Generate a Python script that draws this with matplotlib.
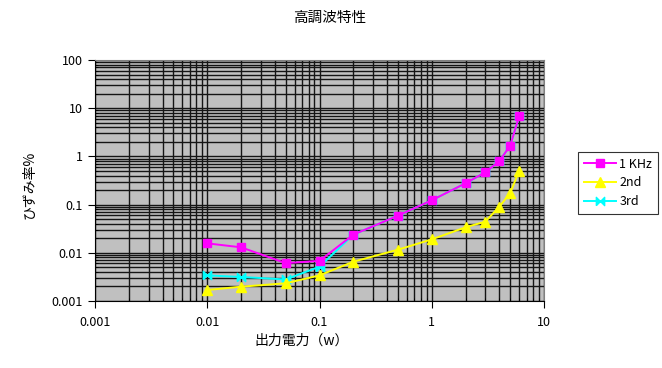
import matplotlib
matplotlib.use("Agg")
import matplotlib.pyplot as plt
from matplotlib.ticker import LogLocator, FixedLocator, FixedFormatter, NullFormatter

plt.rcParams['font.family'] = ['Noto Sans CJK JP', 'DejaVu Sans']

title = "高調波特性"
xlabel = "出力電力（w）"
ylabel = "ひずみ率%"

power = [0.01, 0.02, 0.05, 0.1, 0.2, 0.5, 1, 2, 3, 4, 5, 6]
khz1 = [0.0157, 0.013, 0.0061, 0.0068, 0.0238, 0.059, 0.123, 0.277, 0.468, 0.80, 1.67, 6.8]
second = [0.00169, 0.00198, 0.00233, 0.0034, 0.00653, 0.0116, 0.019, 0.0338, 0.0442, 0.0904, 0.174, 0.498]
third = [0.0034, 0.00315, 0.0028, 0.00515, 0.0238, 0.059, 0.123, 0.277, 0.468, 0.80, 1.67, 6.8]
series_names = ["1 KHz", "2nd", "3rd"]

xticks = [0.001, 0.01, 0.1, 1, 10]
xticklabels = ["0.001", "0.01", "0.1", "1", "10"]
yticks = [0.001, 0.01, 0.1, 1, 10, 100]
yticklabels = ["0.001", "0.01", "0.1", "1", "10", "100"]

fig = plt.figure(figsize=(6.62, 3.68), dpi=100)
fig.patch.set_facecolor("white")
ax = fig.add_axes([95/662, 1-301/368, (544-95)/662, (301-60)/368])
ax.set_facecolor("#C0C0C0")
ax.set_xscale("log")
ax.set_yscale("log")
ax.set_xlim(0.001, 10)
ax.set_ylim(0.001, 100)

ax.xaxis.set_major_locator(FixedLocator(xticks))
ax.xaxis.set_major_formatter(FixedFormatter(xticklabels))
ax.yaxis.set_major_locator(FixedLocator(yticks))
ax.yaxis.set_major_formatter(FixedFormatter(yticklabels))
ax.xaxis.set_minor_locator(LogLocator(base=10, subs=range(2, 10), numticks=20))
ax.yaxis.set_minor_locator(LogLocator(base=10, subs=range(2, 10), numticks=20))
ax.xaxis.set_minor_formatter(NullFormatter())
ax.yaxis.set_minor_formatter(NullFormatter())

ax.grid(True, which="both", color="#151515", linewidth=1.0)
ax.set_axisbelow(True)
ax.tick_params(which="major", direction="out", length=5, width=0.8, labelsize=9, colors="black")
ax.tick_params(which="minor", direction="in", length=2, width=0.6)
ax.tick_params(axis="x", pad=6)
ax.tick_params(axis="y", pad=4)

for side in ["left", "bottom"]:
    ax.spines[side].set_color("black")
for side in ["right", "top"]:
    ax.spines[side].set_color("#808080")

bowtie = [(-1, -1), (-1, 1), (1, -1), (1, 1), (-1, -1)]

ax.plot(power, third, color="#00FFFF", lw=1.4, marker=bowtie, ms=6, zorder=3, label=series_names[2])
ax.plot(power, second, color="#FFFF00", lw=1.4, marker="^", ms=6.5, zorder=4, label=series_names[1])
ax.plot(power, khz1, color="#FF00FF", lw=1.4, marker="s", ms=6, zorder=5, label=series_names[0])

handles, labels = ax.get_legend_handles_labels()
order = [2, 1, 0]
leg = fig.legend([handles[i] for i in order], [labels[i] for i in order],
                 loc="upper left", bbox_to_anchor=(578/662, 1-152/368),
                 frameon=True, fancybox=False, edgecolor="black", fontsize=9,
                 handlelength=2.6, borderpad=0.45, borderaxespad=0.0,
                 labelspacing=0.45, handletextpad=0.25)
leg.get_frame().set_linewidth(0.8)

fig.text(330/662, 1-18/368, title, ha="center", va="center", fontsize=10.5)
fig.text(302/662, 1-341/368, xlabel, ha="center", va="center", fontsize=10)
fig.text(30/662, 1-185/368, ylabel, ha="center", va="center", fontsize=10, rotation=90)

fig.savefig("out.png", dpi=100, facecolor="white")
